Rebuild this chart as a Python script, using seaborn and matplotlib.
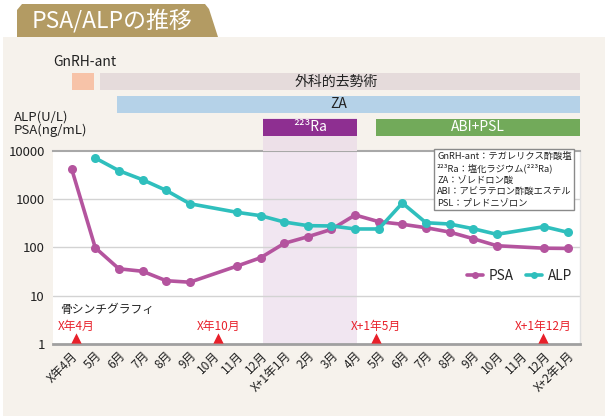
import numpy as np
import pandas as pd
import matplotlib
matplotlib.use("Agg")
import matplotlib.pyplot as plt
from matplotlib.patches import Rectangle, Polygon
import matplotlib.transforms as mtransforms
import seaborn as sns

# ---------------- data ----------------
months = ["X年4月", "5月", "6月", "7月", "8月", "9月", "10月", "11月", "12月",
          "X+1年1月", "2月", "3月", "4月", "5月", "6月", "7月", "8月", "9月",
          "10月", "11月", "12月", "X+2年1月"]
psa = [4200, 98, 36, 32, 20.4, 19, np.nan, 41, 61, 121, 166, 236, 467, 340,
       300, 255, 207, 151, 108, np.nan, 96, 95]
alp = [np.nan, 7050, 3860, 2510, 1510, 800, np.nan, 531, 452, 334, 281, 277,
       240, 240, 827, 323, 304, 243, 186, np.nan, 268, 205]

# treatments: name, start, end (month index units)
treat_names = ["GnRH-ant", "外科的去勢術", "ZA", "²²³Ra", "ABI+PSL"]
treat_start = [0.0, 1.2, 1.92, 8.11, 12.88]
treat_end = [0.95, 21.52, 21.52, 12.09, 21.52]

# bone scintigraphy
scan_labels = ["X年4月", "X年10月", "X+1年5月", "X+1年12月"]
scan_pos = [0.2, 6.2, 12.87, 19.94]

legend_lines = ["GnRH-ant：テガレリクス酢酸塩",
                "²²³Ra：塩化ラジウム(²²³Ra)",
                "ZA：ゾレドロン酸",
                "ABI：アビラテロン酢酸エステル",
                "PSL：プレドニゾロン"]

# ---------------- style ----------------
sns.set_theme(style="white")
plt.rcParams["font.family"] = ["Noto Sans CJK JP", "DejaVu Sans"]

W, H = 609, 420
fig = plt.figure(figsize=(W / 100, H / 100), dpi=100)
fig.patch.set_facecolor("white")


def fx(x):
    return x / W


def fy(y):
    return 1 - y / H


# beige panel
fig.patches.append(Rectangle((fx(3), fy(416)), fx(602), (416 - 37) / H,
                             transform=fig.transFigure, facecolor="#F6F2EC",
                             edgecolor="none", zorder=-5))
# title tab
tab = [(17, 37), (17, 10), (22, 4), (205, 4), (209, 9), (218, 37)]
fig.patches.append(Polygon([(fx(a), fy(b)) for a, b in tab], closed=True,
                           transform=fig.transFigure, facecolor="#B39B63",
                           edgecolor="none", zorder=-5))
fig.text(fx(32), fy(21), "PSA/ALPの推移", color="white", fontsize=16.5,
         va="center", ha="left")

XMIN, XMAX = -0.79, 21.52
SHADE = (8.11, 12.09)

# ---------------- main axes ----------------
ax = fig.add_axes([fx(53), fy(344), fx(580 - 53), (344 - 150.7) / H])
ax.set_facecolor("white")
ax.axvspan(SHADE[0], SHADE[1], color="#F1E6F1", zorder=0, lw=0)

idx = np.arange(len(months))
df = pd.DataFrame({
    "idx": np.concatenate([idx, idx]),
    "value": np.concatenate([psa, alp]),
    "series": ["PSA"] * len(idx) + ["ALP"] * len(idx),
})
ax.set_yscale("log")
sns.lineplot(data=df, x="idx", y="value", hue="series", ax=ax,
             palette={"PSA": "#B4549E", "ALP": "#2FBFBD"},
             marker="o", markersize=6.5, markeredgewidth=0, linewidth=2.6,
             zorder=3)
ax.set_ylim(1, 10000)
ax.set_xlim(XMIN, XMAX)
ax.set_xlabel("")
ax.set_ylabel("")
for v in [10, 100, 1000]:
    ax.axhline(v, color="#D3D3D3", lw=1, zorder=1)
ax.set_yticks([1, 10, 100, 1000, 10000])
ax.set_yticklabels(["1", "10", "100", "1000", "10000"])
ax.minorticks_off()
ax.tick_params(axis="y", length=0, pad=6, labelsize=9.5, colors="#222222")
ax.set_xticks(idx)
ax.set_xticklabels(months, rotation=45, ha="right", rotation_mode="anchor",
                   fontsize=8.6, color="#222222")
ax.tick_params(axis="x", length=0, pad=4)
ax.spines["left"].set_visible(False)
ax.spines["right"].set_color("#E2E2E2")
ax.spines["right"].set_linewidth(1)
ax.spines["top"].set_color("#A8A8A8")
ax.spines["top"].set_linewidth(1.5)
ax.spines["bottom"].set_color("#A0A0A0")
ax.spines["bottom"].set_linewidth(2)

handles, labels = ax.get_legend_handles_labels()
order = [labels.index("PSA"), labels.index("ALP")]
for i in order:
    handles[i].set_markersize(5)
ax.legend(handles=[handles[i] for i in order], labels=["PSA", "ALP"],
          loc="center right", bbox_to_anchor=(0.99, 0.352), ncol=2,
          frameon=False, fontsize=9.8, handlelength=1.2, columnspacing=0.9,
          handletextpad=0.4, borderaxespad=0, borderpad=0.2)

trans = mtransforms.blended_transform_factory(ax.transData, ax.transAxes)
ax.text((60 - 53) / (580 - 53), 0.176, "骨シンチグラフィ",
        transform=ax.transAxes, fontsize=8.5, ha="left", va="center",
        color="#222222")
for lab, p in zip(scan_labels, scan_pos):
    ax.text(p, 0.093, lab, transform=trans, color="#E8202A", fontsize=8.5,
            ha="center", va="center")
ax.scatter(scan_pos, [0.031] * len(scan_pos), marker="^", s=55,
           color="#E8202A", transform=trans, zorder=5, clip_on=False,
           linewidths=0)

# info box
ax.text((437 - 53) / (580 - 53), (344 - 152) / 193.3,
        "\n".join(legend_lines), transform=ax.transAxes, fontsize=6.7,
        ha="left", va="top", linespacing=1.32, color="#222222", zorder=6,
        bbox=dict(boxstyle="square,pad=0.3", facecolor="white",
                  edgecolor="#8A8A8A", linewidth=1))

# ---------------- treatment bars ----------------
TOP, BOT = 55, 150.7
bx = fig.add_axes([fx(53), fy(BOT), fx(580 - 53), (BOT - TOP) / H])
bx.set_xlim(XMIN, XMAX)
bx.set_ylim(BOT, TOP)
bx.axis("off")
bx.patch.set_alpha(0)
bx.axvspan(SHADE[0], SHADE[1], ymin=0, ymax=(BOT - 118) / (BOT - TOP),
           color="#EDE0E8", lw=0, zorder=0)

rows = [81.5, 81.5, 104.5, 127, 127]
colors = ["#F7C3A8", "#E5DBDB", "#B5D2E8", "#8E2F91", "#72AA5A"]
txt_col = [None, "#222222", "#222222", "white", "white"]
txt_x = [None, 11.2, 11.3, None, None]
for name, s, e, r, c, tc, tx in zip(treat_names, treat_start, treat_end,
                                    rows, colors, txt_col, txt_x):
    bx.barh(r, e - s, left=s, height=17, color=c, lw=0, zorder=2)
    if tc is not None:
        xx = tx if tx is not None else (s + e) / 2
        bx.text(xx, r, name, ha="center", va="center", color=tc,
                fontsize=10, zorder=3)
bx.text(-0.79, 62, "GnRH-ant", ha="left", va="center", fontsize=10,
        color="#222222")

fig.text(fx(14), fy(117), "ALP(U/L)", fontsize=9.5, ha="left", va="center",
         color="#222222")
fig.text(fx(14), fy(130), "PSA(ng/mL)", fontsize=9.5, ha="left", va="center",
         color="#222222")

fig.savefig("out.png", dpi=100)
